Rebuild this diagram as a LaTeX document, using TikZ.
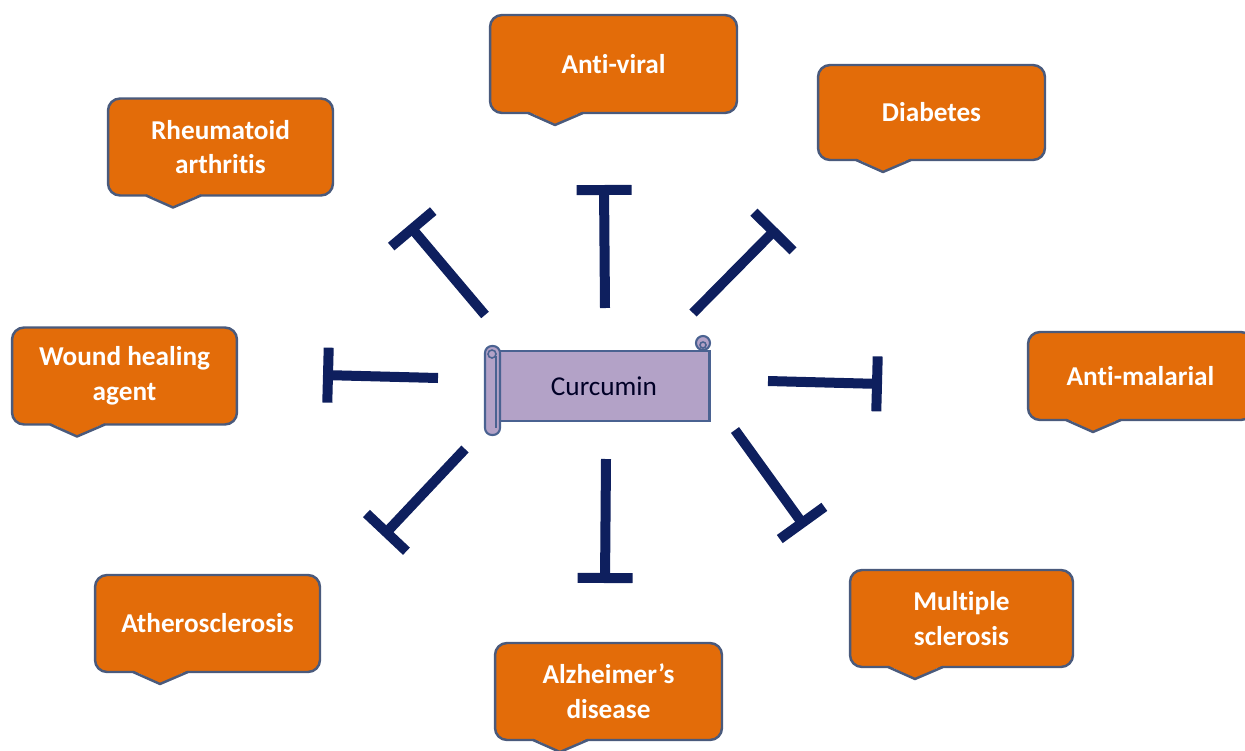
\documentclass[tikz,border=0pt]{standalone}
\usepackage{fontspec}
\setmainfont[Ligatures=NoCommon]{Carlito}
\usetikzlibrary{arrows.meta,calc}

\definecolor{orgfill}{HTML}{E36C09}
\definecolor{orgline}{HTML}{4A5A7C}
\definecolor{lavfill}{HTML}{B3A2C7}
\definecolor{lavline}{HTML}{4A6291}
\definecolor{inhnavy}{HTML}{0E1F5E}

\begin{document}
\begin{tikzpicture}[
  x=0.02cm, y=-0.02cm,
  box/.style={draw=orgline, fill=orgfill, line width=1.4pt, rounded corners=0.24cm,
    outer sep=0pt, minimum width=4.5cm, minimum height=1.94cm, align=center,
    text=white, font=\fontsize{15.5}{19.8}\selectfont\bfseries},
  scroll/.style={draw=lavline, fill=lavfill, line width=1.2pt},
  inhib/.style={draw=inhnavy, line width=0.2cm, -{Bar[width=1.1cm]}}
]
\clip (0,0) rectangle (1245,751);

% centre scroll
\node[scroll, minimum width=4.22cm, minimum height=1.4cm, outer sep=0pt,
  font=\fontsize{15.5}{19.8}\selectfont, text=black!85!blue] (curc) at (604,386) {Curcumin};
\draw[scroll, rounded corners=0.14cm] (485,346) rectangle (500,435);
\draw[lavline, line width=1pt] (496,356) -- (496,428);
\draw[scroll, line width=0.9pt] (492,354) circle (4);
\draw[scroll] (703,343) circle (7);
\draw[lavline, line width=0.9pt] (703,345) circle (3);

% targets
\node[box, minimum width=4.94cm, minimum height=1.96cm] (viral) at (613.5,64) {Anti-viral};
\node[box, minimum width=4.54cm, minimum height=1.9cm] (diab) at (931.5,112.5) {Diabetes};
\node[box] (rheum) at (220.5,147) {Rheumatoid\\arthritis};
\node[box] (wound) at (124.5,376) {Wound healing\\agent};
\node[box, minimum height=1.76cm] (malar) at (1140.5,376) {Anti-malarial};
\node[box] (ather) at (207.5,623.5) {Atherosclerosis};
\node[box, minimum width=4.54cm] (alz) at (608.5,691.5) {Alzheimer’s\\disease};
\node[box, minimum width=4.46cm] (ms) at (961.5,618.5) {Multiple\\sclerosis};

% callout tips
\foreach \b in {viral,diab,rheum,wound,malar,ather,alz,ms}{
  \fill[orgfill] ([xshift=0.76cm,yshift=1pt]\b.south west) -- ([xshift=1.3cm,yshift=-0.24cm]\b.south west)
    -- ([xshift=1.86cm,yshift=1pt]\b.south west) -- cycle;
  \draw[orgline, line width=1.4pt, line join=round] ([xshift=0.76cm]\b.south west)
    -- ([xshift=1.3cm,yshift=-0.24cm]\b.south west) -- ([xshift=1.86cm]\b.south west);
}

% inhibition bars
\coordinate (upA) at (605,308);   \coordinate (upB) at (604,185);
\coordinate (urA) at (693,313);   \coordinate (urB) at (777,228);
\coordinate (ulA) at (485,315);   \coordinate (ulB) at (409,225);
\coordinate (lfA) at (438,378);   \coordinate (lfB) at (323,375);
\coordinate (rtA) at (768,381);   \coordinate (rtB) at (882,384);
\coordinate (dlA) at (465,449);   \coordinate (dlB) at (383,536);
\coordinate (dnA) at (606,459);   \coordinate (dnB) at (605,583);
\coordinate (drA) at (735,430);   \coordinate (drB) at (805,527);
\draw[inhib] (upA) -- (upB);
\draw[inhib] (urA) -- (urB);
\draw[inhib] (ulA) -- (ulB);
\draw[inhib] (lfA) -- (lfB);
\draw[inhib] (rtA) -- (rtB);
\draw[inhib] (dlA) -- (dlB);
\draw[inhib] (dnA) -- (dnB);
\draw[inhib] (drA) -- (drB);
\end{tikzpicture}
\end{document}
